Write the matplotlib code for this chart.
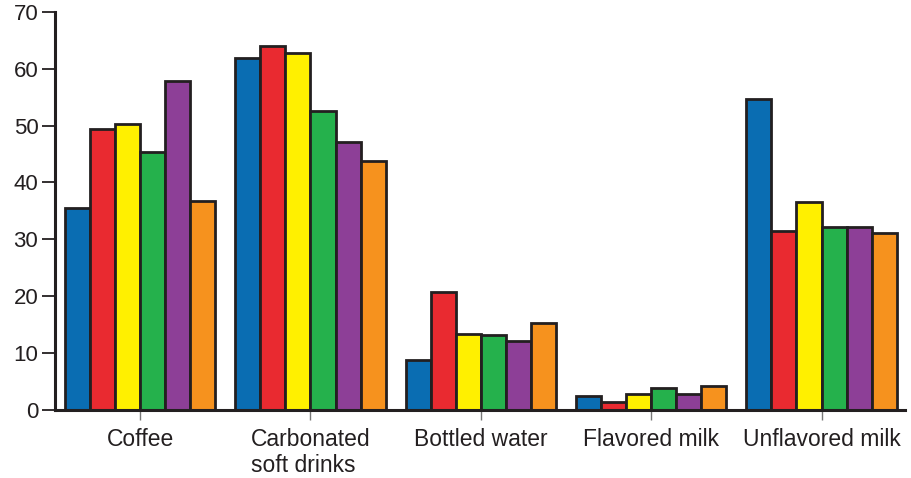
import numpy as np
import matplotlib
matplotlib.use("Agg")
import matplotlib.pyplot as plt

plt.rcParams["font.family"] = ["Liberation Sans", "DejaVu Sans"]

categories = ["Coffee", "Carbonated\nsoft drinks", "Bottled water",
              "Flavored milk", "Unflavored milk"]
series_colors = ["#0a6db2", "#e92a30", "#fff000", "#25b14c", "#8d3f97", "#f6921e"]
series_values = [
    [35.5, 61.9, 8.7, 2.4, 54.7],
    [49.4, 64.0, 20.8, 1.4, 31.5],
    [50.3, 62.7, 13.4, 2.8, 36.6],
    [45.3, 52.6, 13.2, 3.9, 32.2],
    [57.8, 47.1, 12.2, 2.8, 32.1],
    [36.8, 43.8, 15.3, 4.2, 31.1],
]
y_ticks = [0, 10, 20, 30, 40, 50, 60, 70]

fig = plt.figure(figsize=(9.12, 4.78), dpi=100)
ax = fig.add_axes([0.0603, 0.1423, 0.932, 0.833])

x = np.arange(len(categories))
n = len(series_values)
width = 0.147
for i, (vals, col) in enumerate(zip(series_values, series_colors)):
    offs = (i - (n - 1) / 2) * width
    ax.bar(x + offs, vals, width=width, color=col,
           edgecolor="#231f20", linewidth=2.0, zorder=3)

ax.set_xlim(-0.5, 4.49)
ax.set_ylim(0, 70)
ax.set_yticks(y_ticks)
ax.set_xticks(x)
ax.set_xticklabels(categories, fontsize=16.5, color="#231f20", linespacing=1.15,
                   multialignment="left")

for side in ["top", "right"]:
    ax.spines[side].set_visible(False)
for side in ["left", "bottom"]:
    ax.spines[side].set_linewidth(2.2)
    ax.spines[side].set_color("#231f20")
ax.spines["bottom"].set_zorder(4)

ax.tick_params(axis="y", direction="out", length=9.5, width=1.3, color="#231f20",
               pad=2.5, labelsize=16, labelcolor="#231f20")
ax.tick_params(axis="x", direction="out", length=7, width=1, color="#777777",
               pad=6)

fig.savefig("out.png", dpi=100)
